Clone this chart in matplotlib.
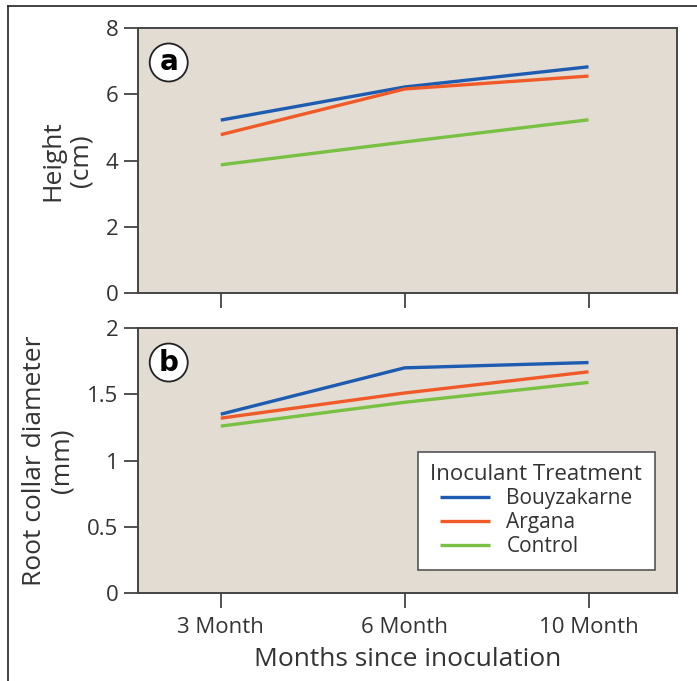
import matplotlib
matplotlib.use("Agg")
import matplotlib.pyplot as plt
from matplotlib.lines import Line2D

plt.rcParams["font.family"] = ["Open Sans", "DejaVu Sans"]

# данные
months = ["3 Month", "6 Month", "10 Month"]
series = ["Bouyzakarne", "Argana", "Control"]
height_cm = {
    "Bouyzakarne": [5.22, 6.22, 6.83],
    "Argana": [4.78, 6.16, 6.55],
    "Control": [3.87, 4.56, 5.23],
}
diameter_mm = {
    "Bouyzakarne": [1.35, 1.70, 1.74],
    "Argana": [1.32, 1.51, 1.67],
    "Control": [1.26, 1.44, 1.59],
}
colors = {"Bouyzakarne": "#1d5cb0", "Argana": "#f05a28", "Control": "#78c143"}

BG = "#e2dcd2"
INK = "#333333"

fig = plt.figure(figsize=(6.97, 6.81), dpi=100)
ax_a = fig.add_axes([0.198, 0.5698, 0.773, 0.389])
ax_b = fig.add_axes([0.198, 0.1292, 0.773, 0.389])

x = list(range(len(months)))

for ax, data, ylim, yticks, ylabels, ylab, tag in [
    (ax_a, height_cm, (0, 8), [0, 2, 4, 6, 8], ["0", "2", "4", "6", "8"],
     "Height\n(cm)", "a"),
    (ax_b, diameter_mm, (0, 2), [0, 0.5, 1, 1.5, 2], ["0", "0.5", "1", "1.5", "2"],
     "Root collar diameter\n(mm)", "b"),
]:
    ax.set_facecolor(BG)
    for name in series:
        ax.plot(x, data[name], color=colors[name], lw=2.4, label=name,
                solid_capstyle="butt")
    ax.set_xlim(-0.45, 2.48)
    ax.set_ylim(*ylim)
    ax.set_yticks(yticks)
    ax.set_yticklabels(ylabels)
    ax.set_xticks(x)
    ax.tick_params(axis="both", direction="out", length=10, width=1.2,
                   color=INK, labelcolor=INK, labelsize=16, pad=4)
    ax.tick_params(axis="x", length=11, pad=6)
    for sp in ax.spines.values():
        sp.set_color("#444444")
        sp.set_linewidth(1.4)
    ax.set_ylabel(ylab, fontsize=19, color=INK, linespacing=1.15, labelpad=9)
    ax.text(0.057, 0.87, tag, transform=ax.transAxes, fontsize=20,
            fontweight="bold", ha="center", va="center", family="DejaVu Sans",
            bbox=dict(boxstyle="circle,pad=0.18", fc="white", ec="#222222", lw=1.3))

ax_a.set_xticklabels([])
ax_b.set_xticklabels(months)
ax_b.set_xlabel("Months since inoculation", fontsize=19, color=INK, labelpad=7)

leg = ax_b.legend(title="Inoculant Treatment", loc="lower right",
                  bbox_to_anchor=(0.959, 0.087), borderaxespad=0,
                  fontsize=15, title_fontsize=16,
                  frameon=True, fancybox=False, framealpha=1, handlelength=2.4,
                  labelspacing=0.15, borderpad=0.6)
leg.get_frame().set_edgecolor("#555555")
leg.get_frame().set_linewidth(1.2)
leg.get_frame().set_facecolor("white")
for t in leg.get_texts():
    t.set_color(INK)
leg.get_title().set_color(INK)

# рамка вокруг рисунка (только слева и сверху)
fig.add_artist(Line2D([8 / 697, 8 / 697], [0, 1 - 6 / 681], transform=fig.transFigure,
                      color="#222222", lw=1.2))
fig.add_artist(Line2D([8 / 697, 1], [1 - 6 / 681, 1 - 6 / 681], transform=fig.transFigure,
                      color="#222222", lw=1.2))

fig.savefig("out.png", dpi=100)
